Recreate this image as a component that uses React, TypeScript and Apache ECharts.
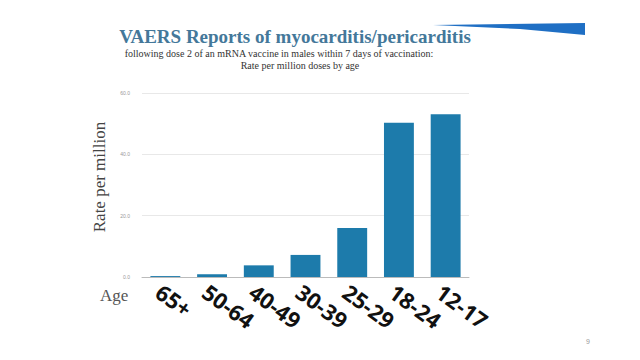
import React, { useEffect, useRef } from "react";
import * as echarts from "echarts";

const ageGroups = ["65+", "50-64", "40-49", "30-39", "25-29", "18-24", "12-17"];
const ratePerMillion = [0.3, 0.9, 3.8, 7.2, 16.0, 50.3, 53.1];
const yTicks = { min: 0, max: 60, interval: 20 };

export default function App() {
  const ref = useRef<HTMLDivElement>(null);
  useEffect(() => {
    if (!ref.current) return;
    const chart = echarts.init(ref.current, null, { renderer: "svg" });
    chart.setOption({
      animation: false,
      backgroundColor: "#ffffff",
      title: [
        {
          text: "VAERS Reports of myocarditis/pericarditis",
          left: 295,
          top: 26,
          padding: 0,
          textAlign: "center",
          textStyle: {
            fontFamily: "Liberation Serif",
            fontWeight: "bold",
            fontSize: 19,
            lineHeight: 20,
            color: "#44789a",
          },
        },
        {
          text: "following dose 2 of an mRNA vaccine in males within 7 days of vaccination:",
          left: 279,
          top: 48,
          padding: 0,
          textAlign: "center",
          textStyle: {
            fontFamily: "Liberation Serif",
            fontWeight: "normal",
            fontSize: 10,
            lineHeight: 11,
            color: "#333333",
          },
        },
        {
          text: "Rate per million doses by age",
          left: 300,
          top: 60,
          padding: 0,
          textAlign: "center",
          textStyle: {
            fontFamily: "Liberation Serif",
            fontWeight: "normal",
            fontSize: 10,
            lineHeight: 11,
            color: "#333333",
          },
        },
      ],
      grid: { left: 142, right: 171, top: 93, bottom: 83 },
      xAxis: {
        type: "category",
        data: ageGroups,
        axisLine: { show: true, lineStyle: { color: "#bbbbbb", width: 1 } },
        axisTick: { show: false },
        axisLabel: {
          rotate: -36,
          margin: 3,
          verticalAlign: "top",
          fontFamily: "Noto Sans",
          fontWeight: "bold",
          fontSize: 22,
          color: "#111111",
          interval: 0,
        },
      },
      yAxis: {
        type: "value",
        min: yTicks.min,
        max: yTicks.max,
        interval: yTicks.interval,
        axisLine: { show: false },
        axisTick: { show: false },
        axisLabel: {
          formatter: (v: number) => v.toFixed(1),
          fontSize: 5,
          color: "#999999",
          margin: 12,
        },
        splitLine: { lineStyle: { color: "#e8e8e8", width: 1 } },
      },
      series: [
        {
          type: "bar",
          data: ratePerMillion,
          barWidth: "64%",
          itemStyle: { color: "#1d7bab" },
        },
      ],
      graphic: [
        {
          type: "text",
          x: 99,
          y: 177,
          rotation: Math.PI / 2,
          style: {
            text: "Rate per million",
            fontFamily: "Liberation Serif",
            fontSize: 17,
            fill: "#444444",
            align: "center",
            verticalAlign: "middle",
          },
        },
        {
          type: "text",
          left: 100,
          top: 287,
          style: {
            text: "Age",
            fontFamily: "Liberation Serif",
            fontSize: 17,
            fill: "#555555",
          },
        },
        {
          type: "polygon",
          shape: {
            points: [
              [433, 25],
              [585, 23],
              [585, 35],
              [520, 29],
            ],
          },
          style: { fill: "#1f6fc4" },
        },
        {
          type: "text",
          left: 586,
          top: 338,
          style: { text: "9", fontSize: 7, fill: "#999999" },
        },
      ],
    });
    return () => chart.dispose();
  }, []);
  return <div ref={ref} style={{ width: 640, height: 360, margin: -8 }} />;
}
